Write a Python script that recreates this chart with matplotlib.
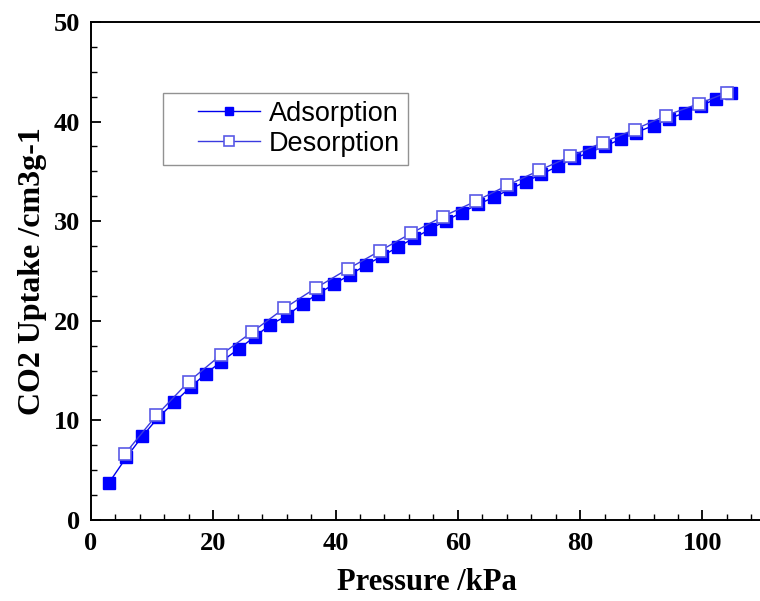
import matplotlib
matplotlib.use("Agg")
import matplotlib.pyplot as plt
from matplotlib.ticker import MultipleLocator
from matplotlib.legend_handler import HandlerLine2D

ads_p = [2.9, 5.8, 8.4, 11.0, 13.6, 16.3, 18.8, 21.3, 24.2, 26.8, 29.3, 32.0, 34.6, 37.1,
         39.8, 42.3, 45.0, 47.6, 50.2, 52.8, 55.5, 58.0, 60.6, 63.3, 65.9, 68.5, 71.1,
         73.6, 76.3, 79.0, 81.5, 84.1, 86.7, 89.1, 92.0, 94.5, 97.2, 99.8, 102.3, 104.7]
ads_u = [3.7, 6.3, 8.4, 10.3, 11.8, 13.35, 14.7, 15.9, 17.2, 18.4, 19.6, 20.5, 21.7, 22.7,
         23.7, 24.6, 25.6, 26.5, 27.4, 28.3, 29.2, 30.05, 30.85, 31.7, 32.4, 33.2, 33.97,
         34.7, 35.5, 36.3, 36.9, 37.55, 38.25, 38.9, 39.6, 40.3, 40.9, 41.6, 42.3, 42.9]

des_p = [5.5, 10.7, 16.0, 21.3, 26.4, 31.6, 36.8, 42.0, 47.2, 52.4, 57.5, 62.9, 68.1,
         73.3, 78.4, 83.7, 88.9, 94.0, 99.4, 104.0]
des_u = [6.6, 10.5, 13.9, 16.6, 18.9, 21.25, 23.3, 25.2, 27.0, 28.8, 30.45, 32.0, 33.6,
         35.1, 36.5, 37.9, 39.2, 40.6, 41.8, 42.9]

xticks = [0, 20, 40, 60, 80, 100]
yticks = [0, 10, 20, 30, 40, 50]

fig = plt.figure(figsize=(7.6, 6.01), dpi=100)
ax = fig.add_axes([0.1197, 0.1348, 0.885, 0.8286])

l1, = ax.plot(ads_p, ads_u, color="#0000ee", lw=1.0, marker="s", ms=8.5,
              mfc="#0000ff", mec="#0000ff", label="Adsorption", zorder=3)
l2, = ax.plot(des_p, des_u, color="#3a3ae0", lw=1.0, marker="s", ms=9,
              mfc="white", mec="#5a5ae6", mew=1.2, label="Desorption", zorder=4)

ax.set_xlim(0, 110)
ax.set_ylim(0, 50)
ax.xaxis.set_minor_locator(MultipleLocator(4))
ax.yaxis.set_minor_locator(MultipleLocator(2.5))
ax.tick_params(which="major", direction="in", length=7, width=1.3)
ax.tick_params(which="minor", direction="in", length=4, width=1.0)
for s in ax.spines.values():
    s.set_linewidth(1.4)

tick_font = dict(family="Liberation Serif", weight="bold", size=19)
ax.set_xticks(xticks)
ax.set_xticklabels([str(v) for v in xticks], **tick_font)
ax.set_yticks(yticks)
ax.set_yticklabels([str(v) for v in yticks], **tick_font)
ax.tick_params(axis="x", pad=9)
ax.tick_params(axis="y", pad=8)

ax.set_xlabel("Pressure /kPa", family="Liberation Serif", weight="bold", size=22, labelpad=9)
ax.set_ylabel("CO2 Uptake /cm3g-1", family="Liberation Serif", weight="bold", size=23, labelpad=5)

hm = {l1: HandlerLine2D(xpad=1.0), l2: HandlerLine2D(xpad=1.0)}
leg = ax.legend(handles=[l1, l2], handler_map=hm,
                loc="upper left", bbox_to_anchor=(0.107, 0.858), frameon=True, fancybox=False,
                edgecolor="#777777", prop=dict(family="Liberation Sans", size=19.5),
                handlelength=3.3, markerscale=0.75, borderpad=0.3, labelspacing=0.15,
                handletextpad=0.3, borderaxespad=0)
leg.get_frame().set_linewidth(1.0)

fig.savefig("out.png", dpi=100)
